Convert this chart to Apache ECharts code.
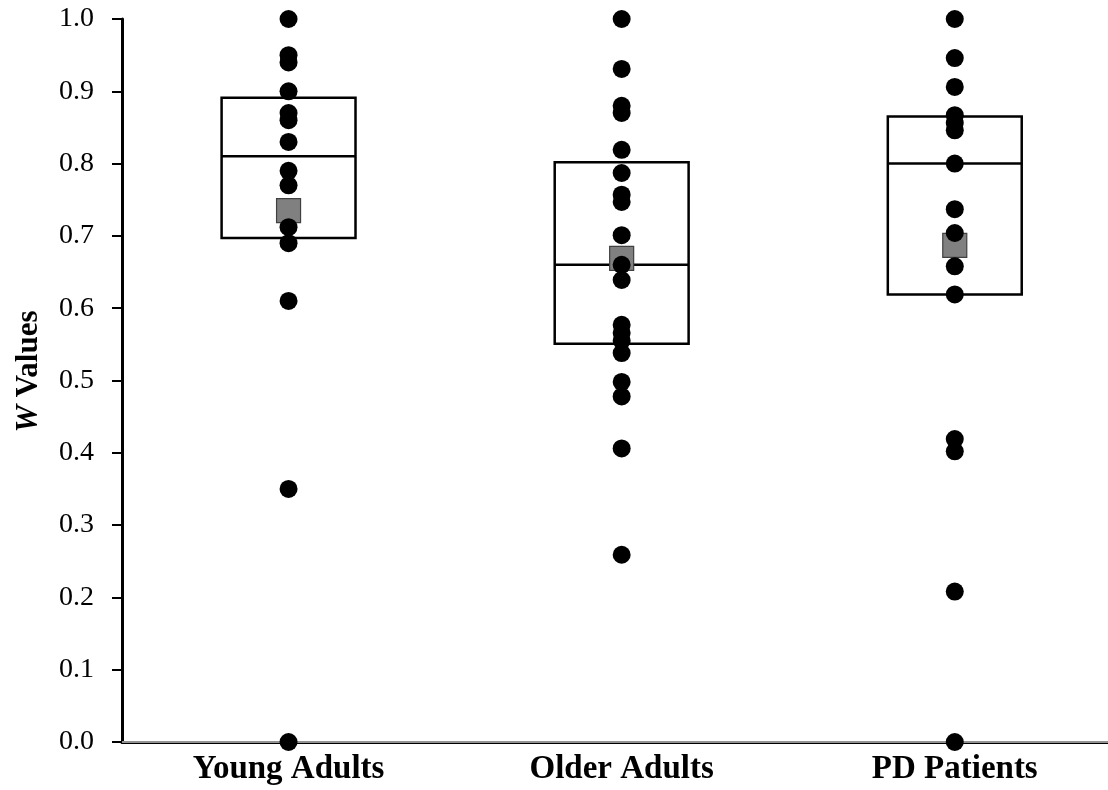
<!DOCTYPE html>
<html>
<head>
<meta charset="utf-8">
<script src="https://cdn.jsdelivr.net/npm/echarts@6/dist/echarts.min.js"></script>
<style>
html,body{margin:0;padding:0;background:#fff;}
#chart{width:1108px;height:790px;}
</style>
</head>
<body>
<div id="chart"></div>
<script>
// ---- data ----
const categories = ['Young Adults', 'Older Adults', 'PD Patients'];
const youngAdults = [1.0, 0.95, 0.94, 0.90, 0.87, 0.86, 0.83, 0.79, 0.77, 0.712, 0.69, 0.61, 0.35, 0.0];
const olderAdults = [1.0, 0.931, 0.880, 0.870, 0.819, 0.787, 0.757, 0.747, 0.701, 0.660, 0.639, 0.577, 0.566, 0.555, 0.538, 0.498, 0.478, 0.406, 0.259];
const pdPatients = [1.0, 0.946, 0.906, 0.867, 0.856, 0.846, 0.800, 0.737, 0.704, 0.658, 0.619, 0.419, 0.402, 0.208, 0.0];
const boxQ1 = [0.697, 0.551, 0.619];
const boxMedian = [0.810, 0.660, 0.800];
const boxQ3 = [0.891, 0.802, 0.865];
const means = [0.735, 0.669, 0.687];
const yMin = 0, yMax = 1.0, yStep = 0.1;

// ---- build ----
const groups = [youngAdults, olderAdults, pdPatients];
const dotData = [];
groups.forEach((arr, i) => arr.forEach(v => dotData.push([i + 0.5, v])));
const meanData = means.map((m, i) => [i + 0.5, m]);
const boxData = categories.map((c, i) => [i + 0.5, boxQ1[i], boxMedian[i], boxQ3[i]]);

const serif = 'Liberation Serif, "Times New Roman", serif';
const chart = echarts.init(document.getElementById('chart'));
chart.setOption({
  animation: false,
  backgroundColor: '#ffffff',
  grid: { left: 122, right: 0, top: 19, bottom: 48 },
  xAxis: [{
    type: 'value', min: 0, max: 2.96, interval: 0.5,
    axisLine: { show: true, onZero: false, lineStyle: { color: '#000', width: 3 } },
    axisTick: { show: false },
    splitLine: { show: false },
    axisLabel: {
      margin: 11, showMaxLabel: false,
      fontFamily: serif, fontSize: 33, fontWeight: 'bold', color: '#000',
      formatter: v => {
        const i = Math.round(v - 0.5);
        return Math.abs(v - 0.5 - i) < 1e-6 && categories[i] ? categories[i] : '';
      }
    }
  }, {
    type: 'value', position: 'top', min: 0, max: 2.96,
    axisLine: { show: true, lineStyle: { color: '#c4c4c4', width: 1.5 } },
    axisTick: { show: false }, axisLabel: { show: false }, splitLine: { show: false }
  }],
  yAxis: {
    type: 'value', min: yMin, max: yMax, interval: yStep,
    name: '{i|W} Values',
    nameLocation: 'middle', nameGap: 78, nameRotate: 90,
    nameTextStyle: {
      fontFamily: serif, fontSize: 31, fontWeight: 'bold', color: '#000',
      padding: [0, 0, 0, 18],
      rich: { i: { fontFamily: serif, fontSize: 31, fontWeight: 'bold', fontStyle: 'italic', color: '#000' } }
    },
    axisLine: { show: true, lineStyle: { color: '#000', width: 3 } },
    axisTick: { show: true, inside: false, length: 10, lineStyle: { color: '#000', width: 2 } },
    splitLine: { show: false },
    axisLabel: {
      margin: 28, fontFamily: serif, fontSize: 28, color: '#000',
      formatter: v => v.toFixed(1)
    }
  },
  series: [{
    type: 'custom',
    z: 1,
    data: boxData,
    renderItem: (params, api) => {
      const x = api.value(0);
      const pQ1 = api.coord([x, api.value(1)]);
      const pMed = api.coord([x, api.value(2)]);
      const pQ3 = api.coord([x, api.value(3)]);
      const w = api.size([0.402, 0])[0];
      const style = { fill: 'none', stroke: '#000', lineWidth: 2.5 };
      return {
        type: 'group',
        children: [
          { type: 'rect', shape: { x: pQ1[0] - w / 2, y: pQ3[1], width: w, height: pQ1[1] - pQ3[1] }, style: style },
          { type: 'line', shape: { x1: pMed[0] - w / 2, y1: pMed[1], x2: pMed[0] + w / 2, y2: pMed[1] }, style: { stroke: '#000', lineWidth: 2.5 } }
        ]
      };
    }
  }, {
    type: 'scatter', z: 2,
    data: meanData,
    symbol: 'rect', symbolSize: 24,
    itemStyle: { color: '#808080', borderColor: '#404040', borderWidth: 1.2, opacity: 1 }
  }, {
    type: 'scatter', z: 3,
    data: dotData,
    symbol: 'circle', symbolSize: 18,
    itemStyle: { color: '#000', opacity: 1 }
  }]
});
</script>
</body>
</html>
